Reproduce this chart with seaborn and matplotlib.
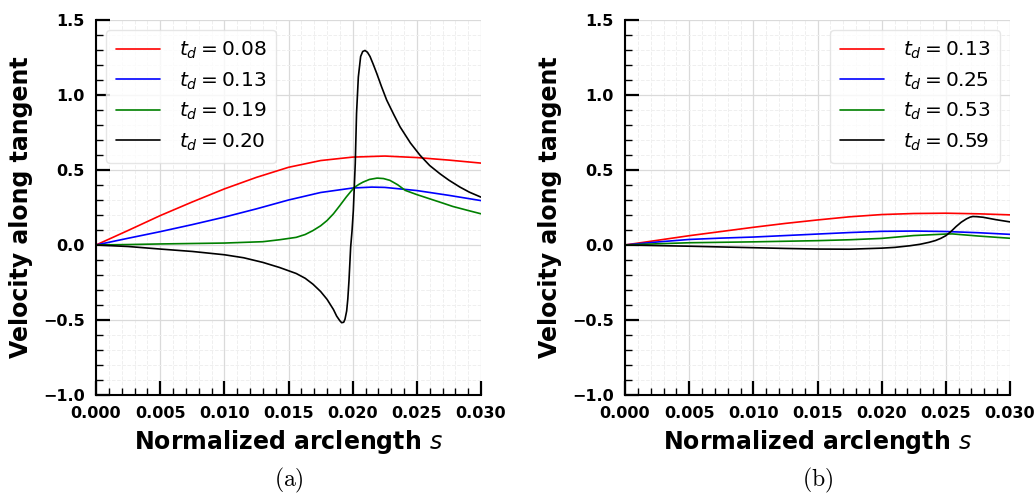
import numpy as np
import pandas as pd
import matplotlib
matplotlib.use("Agg")
import matplotlib.pyplot as plt
from matplotlib.ticker import MultipleLocator, FuncFormatter
import seaborn as sns

# ---- panel (a): tangential velocity at early times ----
a_labels = ["0.08", "0.13", "0.19", "0.20"]

a_s_red = [0, 0.0025, 0.005, 0.0075, 0.010, 0.0125, 0.015, 0.0175, 0.020,
           0.0225, 0.025, 0.0275, 0.030]
a_v_red = [0, 0.097, 0.196, 0.287, 0.374, 0.451, 0.518, 0.563, 0.586,
           0.593, 0.583, 0.566, 0.546]

a_s_blue = [0, 0.0025, 0.005, 0.0075, 0.010, 0.0125, 0.015, 0.0175, 0.020,
            0.0215, 0.0225, 0.025, 0.0275, 0.030]
a_v_blue = [0, 0.045, 0.089, 0.136, 0.186, 0.241, 0.300, 0.350, 0.380,
            0.386, 0.384, 0.363, 0.331, 0.296]

a_s_green = [0, 0.0025, 0.005, 0.0075, 0.010, 0.013, 0.0143, 0.0156, 0.0163,
             0.0169, 0.0175, 0.0180, 0.0185, 0.0190, 0.0195, 0.0201, 0.0205,
             0.0208, 0.0213, 0.0219, 0.0224, 0.0229, 0.0235, 0.0241, 0.0250,
             0.0260, 0.0270, 0.0278, 0.0290, 0.0300]
a_v_green = [0, 0.003, 0.007, 0.010, 0.013, 0.022, 0.035, 0.051, 0.070,
             0.096, 0.128, 0.163, 0.208, 0.263, 0.320, 0.382, 0.405,
             0.419, 0.437, 0.446, 0.443, 0.431, 0.402, 0.364, 0.336,
             0.308, 0.280, 0.257, 0.230, 0.208]

a_s_black = [0, 0.0025, 0.005, 0.0075, 0.010, 0.0115, 0.013, 0.0143, 0.0156,
             0.0163, 0.0169, 0.0175, 0.0180, 0.0185, 0.01875, 0.0190,
             0.01914, 0.0193, 0.0194, 0.01953, 0.01962, 0.01971, 0.01978,
             0.01984, 0.01995, 0.02005, 0.0202, 0.0203, 0.02044, 0.02062,
             0.02078, 0.02096, 0.02115, 0.02135, 0.0216, 0.02187, 0.02225,
             0.02265, 0.0232, 0.02369, 0.0245, 0.02525, 0.0260, 0.0268,
             0.0275, 0.02836, 0.0291, 0.0300]
a_v_black = [0, -0.010, -0.027, -0.043, -0.065, -0.085, -0.116, -0.150, -0.190,
             -0.222, -0.261, -0.310, -0.362, -0.430, -0.474, -0.505,
             -0.518, -0.515, -0.495, -0.440, -0.360, -0.239, -0.120,
             -0.016, 0.096, 0.230, 0.543, 0.877, 1.120, 1.257,
             1.290, 1.297, 1.285, 1.257, 1.205, 1.145, 1.055,
             0.966, 0.870, 0.788, 0.680, 0.598, 0.530, 0.475,
             0.432, 0.386, 0.352, 0.319]

# ---- panel (b): tangential velocity at later times ----
b_labels = ["0.13", "0.25", "0.53", "0.59"]

b_s_red = [0, 0.0025, 0.005, 0.0075, 0.010, 0.0125, 0.015, 0.0175, 0.020,
           0.0225, 0.025, 0.0275, 0.030]
b_v_red = [0, 0.031, 0.062, 0.090, 0.118, 0.144, 0.167, 0.188, 0.203,
           0.210, 0.212, 0.208, 0.201]

b_s_blue = [0, 0.0025, 0.005, 0.0075, 0.010, 0.0125, 0.015, 0.0175, 0.020,
            0.0225, 0.025, 0.0275, 0.030]
b_v_blue = [0, 0.020, 0.037, 0.046, 0.053, 0.063, 0.073, 0.083, 0.091,
            0.093, 0.090, 0.082, 0.071]

b_s_green = [0, 0.0025, 0.005, 0.0075, 0.010, 0.0125, 0.015, 0.0175, 0.020,
             0.0225, 0.025, 0.0255, 0.0275, 0.030]
b_v_green = [0, 0.008, 0.015, 0.018, 0.021, 0.025, 0.029, 0.035, 0.044,
             0.063, 0.073, 0.074, 0.060, 0.045]

b_s_black = [0, 0.0025, 0.005, 0.0075, 0.010, 0.0125, 0.015, 0.0175, 0.020,
             0.021, 0.0222, 0.0230, 0.0237, 0.0242, 0.0246, 0.025, 0.0254,
             0.0258, 0.0262, 0.0266, 0.0269, 0.0271, 0.0274, 0.0279, 0.0284,
             0.0289, 0.030]
b_v_black = [0, -0.004, -0.008, -0.013, -0.018, -0.023, -0.027, -0.028, -0.021,
             -0.016, -0.005, 0.005, 0.018, 0.030, 0.044, 0.062, 0.090,
             0.123, 0.152, 0.174, 0.186, 0.190, 0.189, 0.185, 0.177,
             0.169, 0.154]

colors = ["red", "blue", "green", "black"]

panel_a = [(a_s_red, a_v_red), (a_s_blue, a_v_blue),
           (a_s_green, a_v_green), (a_s_black, a_v_black)]
panel_b = [(b_s_red, b_v_red), (b_s_blue, b_v_blue),
           (b_s_green, b_v_green), (b_s_black, b_v_black)]

sns.set_theme(style="white")
plt.rcParams["font.family"] = ["DejaVu Sans"]
plt.rcParams["mathtext.fontset"] = "dejavusans"
plt.rcParams["axes.unicode_minus"] = True
plt.rcParams["text.color"] = "black"
plt.rcParams["axes.labelcolor"] = "black"
plt.rcParams["xtick.color"] = "black"
plt.rcParams["ytick.color"] = "black"

fig = plt.figure(figsize=(10.36, 4.93), dpi=100)
ax_a = fig.add_axes([0.0927, 0.1988, 0.3716, 0.7606])
ax_b = fig.add_axes([0.6033, 0.1988, 0.3716, 0.7606])


def fmt(decimals):
    return FuncFormatter(
        lambda val, pos: f"{val:.{decimals}f}".replace("-", "\u2212"))


def draw_panel(ax, series, labels, legend_loc, caption):
    for (s, v), lab, col in zip(series, labels, colors):
        df = pd.DataFrame({"s": s, "v": v})
        sns.lineplot(data=df, x="s", y="v", ax=ax, color=col, lw=1.2,
                     label=rf"$t_d = {lab}$", sort=False, estimator=None)
    ax.set_xlim(0, 0.030)
    ax.set_ylim(-1.0, 1.5)
    ax.xaxis.set_major_locator(MultipleLocator(0.005))
    ax.xaxis.set_minor_locator(MultipleLocator(0.001))
    ax.yaxis.set_major_locator(MultipleLocator(0.5))
    ax.yaxis.set_minor_locator(MultipleLocator(0.1))
    ax.set_axisbelow(True)
    ax.grid(which="major", color="#dadada", lw=0.9, ls="-")
    ax.grid(which="minor", color="#efefef", lw=0.7, ls="--")
    for side in ("top", "right"):
        ax.spines[side].set_visible(False)
    for side in ("left", "bottom"):
        ax.spines[side].set_color("black")
        ax.spines[side].set_linewidth(1.5)
    ax.tick_params(which="major", direction="in", length=10, width=1.6,
                   color="black", left=True, bottom=True, top=False,
                   right=False, labelsize=11.5, pad=8)
    ax.tick_params(which="minor", direction="in", length=5, width=1.0,
                   color="black", left=True, bottom=True, top=False,
                   right=False)
    ax.xaxis.set_major_formatter(fmt(3))
    ax.yaxis.set_major_formatter(fmt(1))
    for lbl in ax.get_xticklabels() + ax.get_yticklabels():
        lbl.set_fontweight("bold")
    ax.set_xlabel(r"Normalized arclength $s$", fontsize=17, fontweight="bold",
                  labelpad=5)
    ax.set_ylabel("Velocity along tangent", fontsize=17, fontweight="bold",
                  labelpad=7)
    leg = ax.legend(loc=legend_loc, fontsize=14.5, handlelength=2.2,
                    handletextpad=0.9, labelspacing=0.45, borderpad=0.5,
                    frameon=True, fancybox=True, framealpha=0.8)
    leg.get_frame().set_edgecolor("#e0e0e0")
    pos = ax.get_position()
    fig.text((pos.x0 + pos.x1) / 2, 1 - 480 / 493,
             r"$\mathrm{(" + caption + ")}$", ha="center", va="center",
             fontsize=17, math_fontfamily="cm")


draw_panel(ax_a, panel_a, a_labels, "upper left", "a")
draw_panel(ax_b, panel_b, b_labels, "upper right", "b")

fig.savefig("out.png", dpi=100)
